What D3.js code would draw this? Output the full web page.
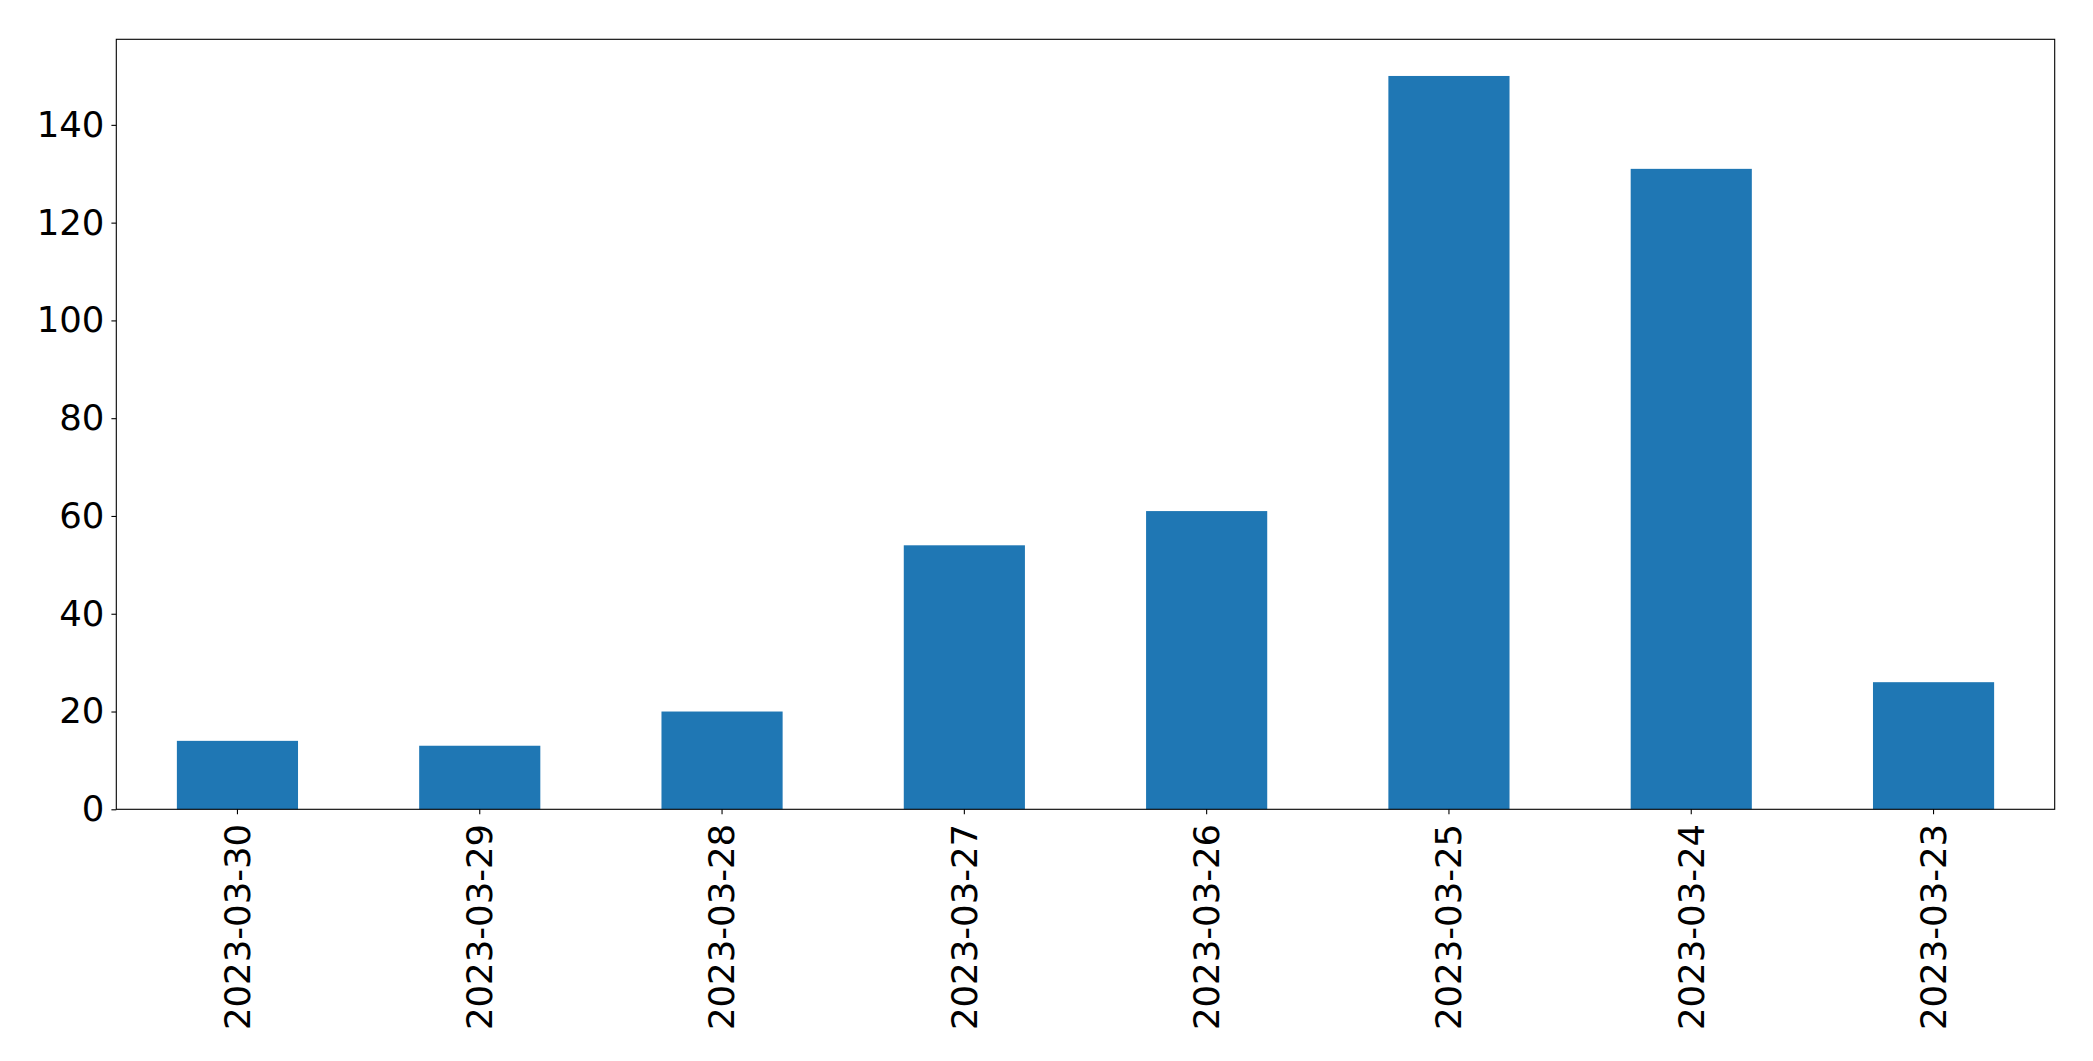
<!DOCTYPE html>
<html><head><meta charset="utf-8">
<script src="https://cdn.jsdelivr.net/npm/d3@7"></script>
<style>body{margin:0;background:#fff}svg{display:block}text{font-family:"DejaVu Sans",sans-serif}</style>
</head><body>
<script>
const categories = ["2023-03-30","2023-03-29","2023-03-28","2023-03-27","2023-03-26","2023-03-25","2023-03-24","2023-03-23"];
const values = [14, 13, 20, 54, 61, 150, 131, 26];
const yTicks = [0, 20, 40, 60, 80, 100, 120, 140];

const W = 2093, H = 1061;
const m = {left: 116.3, top: 39.3, right: W - 2054.7, bottom: H - 809.3};
const svg = d3.select("body").append("svg").attr("width", W).attr("height", H);
const x = d3.scaleBand().domain(categories).range([m.left, W - m.right]).paddingInner(0.5).paddingOuter(0.25);
const y = d3.scaleLinear().domain([0, 157.5]).range([H - m.bottom, m.top]);

svg.append("g").selectAll("rect").data(values).join("rect")
  .attr("x", (d, i) => x(categories[i]))
  .attr("y", d => y(d))
  .attr("width", x.bandwidth())
  .attr("height", d => y(0) - y(d))
  .attr("fill", "#1f77b4");

const fs = "35.5px";
const yAxis = svg.append("g").attr("transform", `translate(${m.left},0)`)
  .call(d3.axisLeft(y).tickValues(yTicks).tickSize(4.9).tickPadding(7));
yAxis.select(".domain").remove();
yAxis.selectAll("text").attr("font-size", fs).attr("font-family", "DejaVu Sans").attr("fill", "#000");
yAxis.selectAll("line").attr("stroke", "#000").attr("stroke-width", 1.1);

const xAxis = svg.append("g").attr("transform", `translate(0,${H - m.bottom})`)
  .call(d3.axisBottom(x).tickSize(4.9).tickPadding(0));
xAxis.select(".domain").remove();
xAxis.selectAll("line").attr("stroke", "#000").attr("stroke-width", 1.1);
xAxis.selectAll("text")
  .attr("font-size", fs).attr("font-family", "DejaVu Sans").attr("fill", "#000")
  .attr("transform", "rotate(-90)")
  .attr("text-anchor", "end")
  .attr("x", -14.5).attr("y", 0).attr("dy", "0.35em");

svg.append("rect").attr("x", m.left).attr("y", m.top)
  .attr("width", W - m.right - m.left).attr("height", H - m.bottom - m.top)
  .attr("fill", "none").attr("stroke", "#000").attr("stroke-width", 1.1);
</script>
</body></html>
